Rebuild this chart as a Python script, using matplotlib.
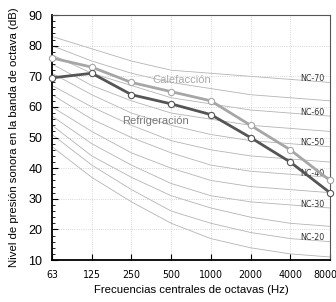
import matplotlib
matplotlib.use("Agg")
import matplotlib.pyplot as plt
from matplotlib.ticker import MultipleLocator
from matplotlib.transforms import ScaledTranslation

plt.rcParams['font.family'] = ['Liberation Sans', 'DejaVu Sans']

# Octave bands
freqs = ["63", "125", "250", "500", "1000", "2000", "4000", "8000"]

# Measured spectra
calefaccion = [76, 73, 68, 65, 62, 54, 46, 36]
refrigeracion = [69.5, 71, 64, 61, 57.5, 50, 42, 32]

# NC curves (dB per octave band)
nc_names = ["NC-15", "NC-20", "NC-25", "NC-30", "NC-35", "NC-40",
            "NC-45", "NC-50", "NC-55", "NC-60", "NC-65", "NC-70"]
nc_values = [
    [47, 37, 29, 22, 17, 14, 12, 11],
    [51, 41, 33, 26, 22, 19, 17, 16],
    [54, 44, 37, 31, 27, 24, 22, 21],
    [57, 48, 41, 35, 31, 29, 28, 27],
    [60, 52, 45, 40, 36, 34, 33, 32],
    [64, 56, 50, 45, 41, 39, 38, 37],
    [67, 60, 54, 49, 46, 44, 43, 42],
    [71, 64, 58, 54, 51, 49, 48, 47],
    [74, 67, 62, 58, 56, 54, 53, 52],
    [77, 71, 67, 63, 61, 59, 58, 57],
    [80, 75, 71, 68, 66, 64, 63, 62],
    [83, 79, 75, 72, 71, 70, 69, 68],
]
nc_labeled = ["NC-20", "NC-30", "NC-40", "NC-50", "NC-60", "NC-70"]

narrow = dict(family="DejaVu Sans", stretch="condensed")

fig = plt.figure(figsize=(3.36, 3.02), dpi=100)
ax = fig.add_axes([0.155, 0.139, 0.827, 0.811])

x = list(range(len(freqs)))

# NC background curves
for name, vals in zip(nc_names, nc_values):
    ax.plot(x, vals, color="#b4b4b4", lw=0.6, zorder=1)
    if name in nc_labeled:
        yl = vals[6] + 0.55 * (vals[7] - vals[6]) + 0.8
        ax.text(6.55, yl, name, fontsize=6.3, ha="center", va="center",
                color="#333333", zorder=2, **narrow)

# Spectra
ax.plot(x, calefaccion, color="#a6a6a6", lw=2.0, marker="o", ms=4.5,
        mfc="white", mec="#a6a6a6", mew=0.8, zorder=4, clip_on=False)
ax.plot(x, refrigeracion, color="#555555", lw=2.0, marker="o", ms=4.5,
        mfc="white", mec="#555555", mew=0.8, zorder=5, clip_on=False)

ax.text(3.27, 68.8, "Calefacción", fontsize=8, color="#aaaaaa",
        ha="center", va="center", zorder=3)
ax.text(2.6, 55.4, "Refrigeración", fontsize=8, color="#777777",
        ha="center", va="center", zorder=3)

ax.set_xlim(0, 7)
ax.set_ylim(10, 90)
ax.set_xticks(x)
ax.set_xticklabels(freqs, fontsize=7.6, **narrow)
ax.yaxis.set_major_locator(MultipleLocator(10))
ax.yaxis.set_minor_locator(MultipleLocator(2))
ax.tick_params(axis="y", which="major", direction="in", length=4, width=0.8,
               labelsize=9, pad=7)
ax.tick_params(axis="y", which="minor", direction="in", length=2.5, width=0.6)
ax.tick_params(axis="x", which="major", direction="in", length=4, width=0.8,
               pad=7)

# keep the last label inside the figure, as in the original
last = ax.xaxis.get_major_ticks()[-1].label1
last.set_transform(last.get_transform()
                   + ScaledTranslation(-0.045, 0, fig.dpi_scale_trans))

ax.grid(True, which="major", color="#c8c8c8", lw=0.6, ls=":")

for s in ["left", "bottom"]:
    ax.spines[s].set_linewidth(1.3)
    ax.spines[s].set_color("black")
for s in ["top", "right"]:
    ax.spines[s].set_linewidth(0.8)
    ax.spines[s].set_color("#555555")

ax.set_ylabel("Nivel de presión sonora en la banda de octava (dB)",
              fontsize=8.2, labelpad=7)
ax.set_xlabel("Frecuencias centrales de octavas (Hz)", fontsize=8.2,
              labelpad=4)

fig.savefig("out.png", dpi=100)
